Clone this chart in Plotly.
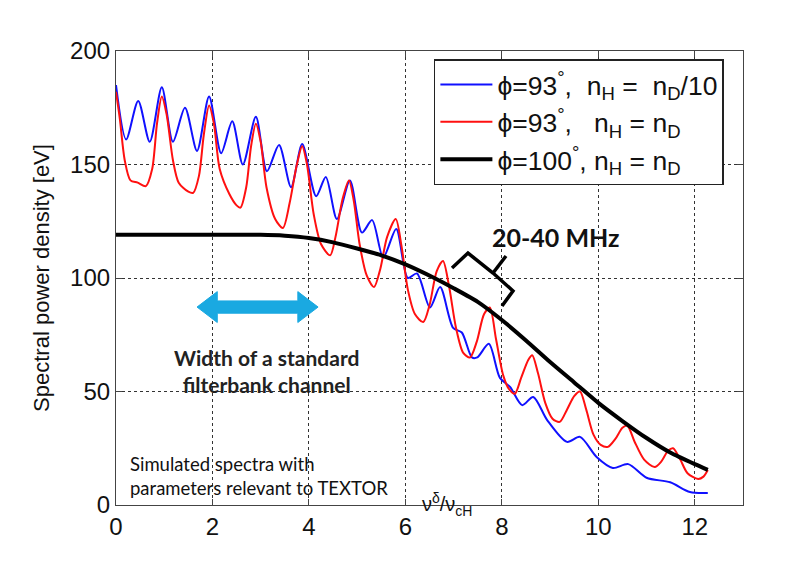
import plotly.graph_objects as go

# Normalised frequency axis and spectral power density [eV]
blue_x = [0.00, 0.21, 0.46, 0.70, 0.95, 1.18, 1.43, 1.68, 1.93, 2.18, 2.41, 2.63,
          2.90, 3.13, 3.38, 3.63, 3.86, 4.15, 4.35, 4.58, 4.85, 5.10, 5.31, 5.54,
          5.81, 6.05, 6.24, 6.51, 6.72, 6.99, 7.17, 7.38, 7.49, 7.73, 7.96, 8.17,
          8.42, 8.65, 8.94, 9.35, 9.62, 9.97, 10.30, 10.62, 11.00, 11.49, 11.90, 12.27]
blue_y = [185, 161, 178, 160, 184, 160, 175, 156, 180, 155, 169, 150,
          171, 147, 158.6, 140, 159, 136, 144.5, 126, 143, 120, 125.5, 109,
          121.6, 100, 102, 87, 96, 78, 76, 65, 65, 71, 56, 52,
          44, 47.6, 37.4, 27.8, 30, 21, 16.3, 18, 12, 10, 5.7, 5.3]

red_x = [0.00, 0.08, 0.18, 0.30, 0.45, 0.62, 0.75, 0.85, 0.95, 1.05, 1.18, 1.30,
         1.50, 1.60, 1.72, 1.82, 1.93, 2.03, 2.15, 2.35, 2.50, 2.58, 2.70, 2.80,
         2.90, 3.00, 3.12, 3.30, 3.46, 3.60, 3.75, 3.86, 3.96, 4.10, 4.25, 4.44,
         4.55, 4.70, 4.83, 4.93, 5.05, 5.20, 5.35, 5.48, 5.62, 5.80, 5.92, 6.05,
         6.20, 6.37, 6.50, 6.65, 6.78, 6.90, 7.05, 7.20, 7.34, 7.48, 7.63, 7.75,
         7.88, 8.03, 8.15, 8.27, 8.40, 8.55, 8.63, 8.75, 8.90, 9.05, 9.20, 9.35,
         9.50, 9.62, 9.75, 9.90, 10.05, 10.20, 10.35, 10.50, 10.60, 10.75, 10.95, 11.17,
         11.30, 11.45, 11.55, 11.70, 11.85, 12.07, 12.18, 12.27]
red_y = [182, 170, 152, 143, 142, 140.5, 148, 168, 180, 172, 152, 142,
         138, 137.5, 145, 163, 176, 168, 148, 137, 132, 131, 140, 158,
         168, 160, 140, 126, 122, 133, 150, 158, 150, 128, 115, 110,
         118, 135, 143, 134, 115, 101, 96, 104, 118, 126, 114, 95,
         84, 80.6, 88, 103, 107.5, 97, 78, 67, 65, 72, 84, 87,
         73, 57, 51, 49, 56, 64, 66, 58, 45, 38, 36.6, 42,
         48, 50, 42, 31, 26.5, 25.6, 29, 34, 35, 28, 20, 16.7,
         19, 24, 25, 20, 14, 11.5, 12.5, 15.4]

black_x = [0, 1, 2, 3, 3.5, 4, 4.5, 5, 5.5, 6, 6.6, 7, 7.5, 8, 8.5, 9, 9.5,
           10, 10.5, 11, 11.5, 12, 12.27]
black_y = [119, 119, 119, 119, 118.6, 117.6, 115.7, 113, 110, 106, 100, 95.5, 89.5,
           81.5, 72.5, 63, 54, 45, 37, 29.5, 23, 18, 15.5]

legend_names = [
    "ϕ=93<sup>°</sup>,  n<sub>H</sub> =  n<sub>D</sub>/10",
    "ϕ=93<sup>°</sup>,   n<sub>H</sub> = n<sub>D</sub>",
    "ϕ=100<sup>°</sup>, n<sub>H</sub> = n<sub>D</sub>",
]

x_ticks = [0, 2, 4, 6, 8, 10, 12]
y_ticks = [0, 50, 100, 150, 200]

fig = go.Figure()
fig.add_trace(go.Scatter(x=blue_x, y=blue_y, mode="lines", name=legend_names[0],
                         line=dict(color="#1010ff", width=2, shape="spline", smoothing=0.8)))
fig.add_trace(go.Scatter(x=red_x, y=red_y, mode="lines", name=legend_names[1],
                         line=dict(color="#ff1010", width=2, shape="spline", smoothing=0.8)))
fig.add_trace(go.Scatter(x=black_x, y=black_y, mode="lines", name=legend_names[2],
                         line=dict(color="black", width=4, shape="spline", smoothing=0.6)))

sans = "Liberation Sans, Arial, sans-serif"
tick_font = dict(family=sans, size=24, color="#111")
axis_common = dict(
    showline=True, linecolor="#444", linewidth=1.2, mirror="ticks",
    ticks="inside", ticklen=6, tickcolor="#444",
    showgrid=True, gridcolor="#333", gridwidth=1, griddash="dot",
    zeroline=False, tickfont=tick_font,
)
fig.update_xaxes(range=[0, 13], tickvals=x_ticks, **axis_common)
fig.update_yaxes(range=[0, 200], tickvals=y_ticks,
                 title=dict(text="Spectral power density [eV]",
                            font=dict(family=sans, size=22, color="#111"),
                            standoff=14),
                 **axis_common)

# Double-headed arrow marking a filterbank channel width
ax0, ax1, ay = 1.68, 4.19, 87.2
hl, sh, hh = 0.42, 2.7, 6.8
arrow_path = (f"M {ax0},{ay} L {ax0+hl},{ay+hh} L {ax0+hl},{ay+sh} L {ax1-hl},{ay+sh} "
              f"L {ax1-hl},{ay+hh} L {ax1},{ay} L {ax1-hl},{ay-hh} L {ax1-hl},{ay-sh} "
              f"L {ax0+hl},{ay-sh} L {ax0+hl},{ay-hh} Z")
fig.add_shape(type="path", path=arrow_path, xref="x", yref="y",
              fillcolor="#1aa9e1", line=dict(color="#1aa9e1", width=1))

# Brace indicating the 20-40 MHz band
brace_path = "M 6.967,104.4 L 7.298,111.0 L 7.817,102.2 L 8.231,94.3 L 8.003,87.7"
fig.add_shape(type="path", path=brace_path, xref="x", yref="y",
              line=dict(color="black", width=3.5))
fig.add_shape(type="line", x0=7.817, y0=102.2, x1=8.086, y1=109.7, xref="x", yref="y",
              line=dict(color="black", width=3.5))

label_font = "Lato, Open Sans, sans-serif"
fig.add_annotation(x=9.12, y=118, xref="x", yref="y", text="<b>20-40 MHz</b>",
                   showarrow=False, font=dict(family=label_font, size=25, color="#111"))
fig.add_annotation(x=3.11, y=59, xref="x", yref="y",
                   text="<b>Width of a standard<br>filterbank channel</b>",
                   showarrow=False, align="center",
                   font=dict(family=label_font, size=21, color="#222"))
fig.add_annotation(x=0.25, y=12.8, xref="x", yref="y", xanchor="left",
                   text="Simulated spectra with<br>parameters relevant to TEXTOR",
                   showarrow=False, align="left",
                   font=dict(family=label_font, size=18.5, color="#111"))
fig.add_annotation(xref="paper", yref="paper",
                   x=(447 - 116) / (806 - 116 - 63), y=-(521 - 505) / (561 - 51 - 56),
                   text="ν<sup>δ</sup>/ν<sub>cH</sub>",
                   showarrow=False, font=dict(family=sans, size=20, color="#111"))

fig.update_layout(
    width=806, height=561,
    margin=dict(l=116, r=63, t=51, b=56),
    paper_bgcolor="white", plot_bgcolor="white",
    showlegend=True,
    legend=dict(x=0.507, y=0.982, xanchor="left", yanchor="top",
                bgcolor="white", bordercolor="#222", borderwidth=1.5,
                font=dict(family=sans, size=26.5, color="#111"),
                itemwidth=52, tracegroupgap=0),
)

fig.write_html("out.html")
